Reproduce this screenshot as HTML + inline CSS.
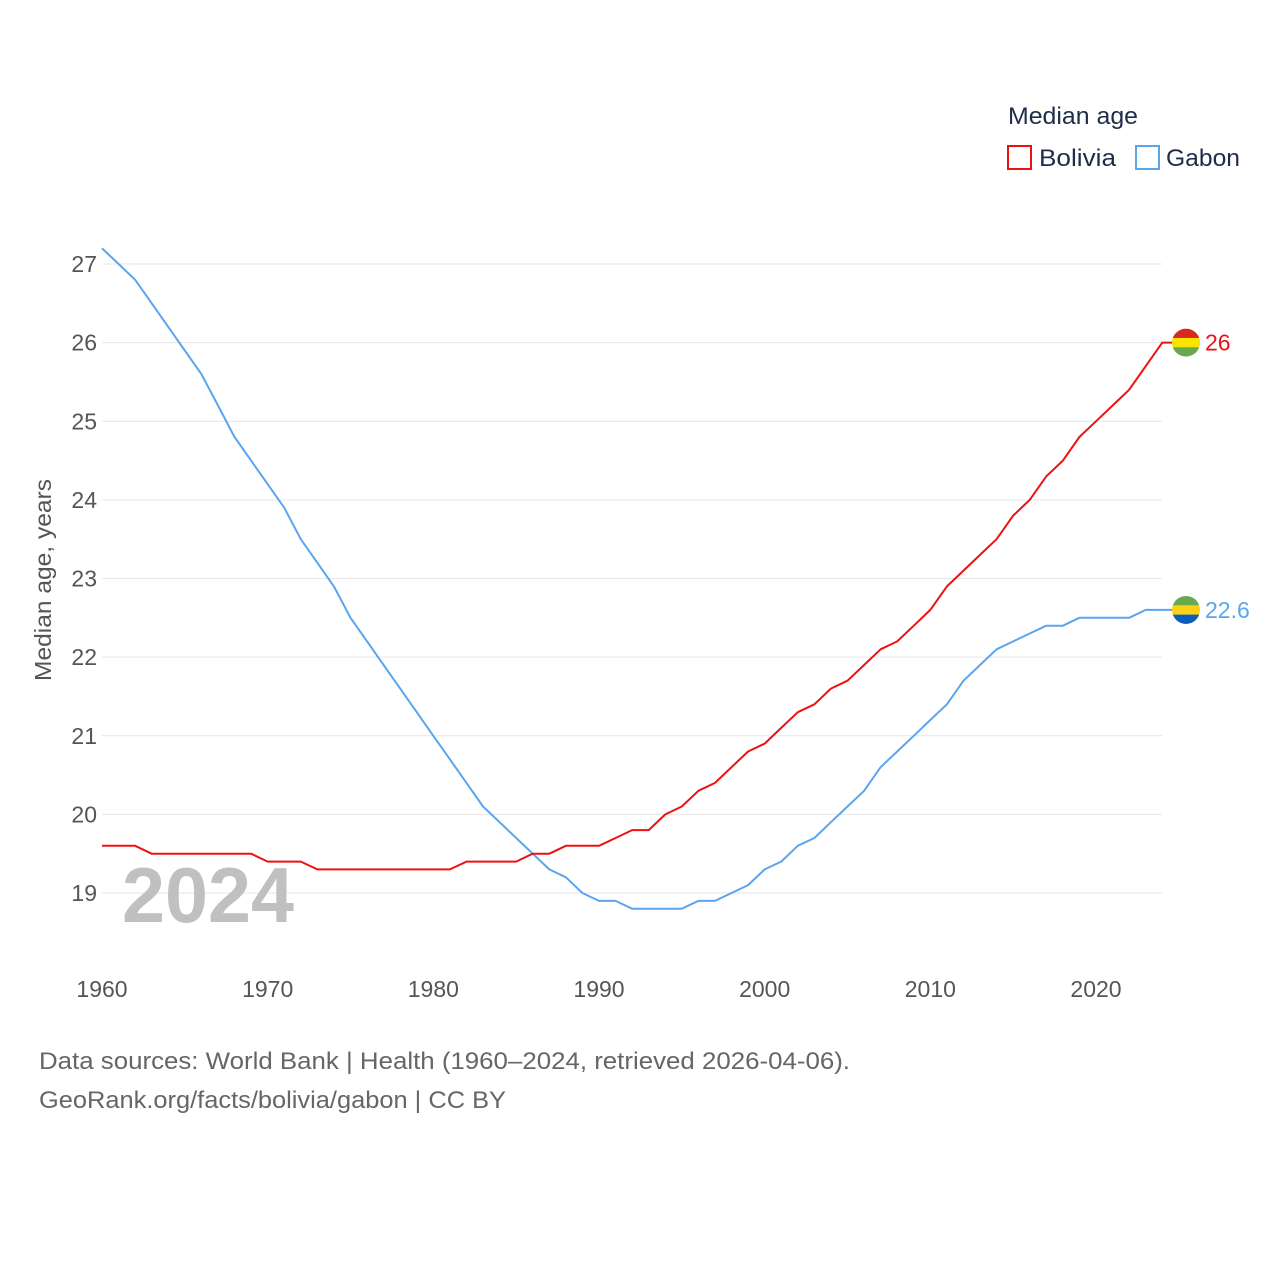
<!DOCTYPE html>
<html><head><meta charset="utf-8">
<style>
body{margin:0;background:#fff;font-family:"Liberation Sans",sans-serif;}
svg text{font-family:"Liberation Sans",sans-serif;}
</style></head>
<body>
<svg id="chart" width="1280" height="1280" viewBox="0 0 1280 1280" xmlns="http://www.w3.org/2000/svg">
<rect width="1280" height="1280" fill="#fff"/>
<g id="grid"></g>
<g id="yticks"></g>
<g id="xticks"></g>
<text x="122" y="922" font-size="78" font-weight="bold" fill="#c0c0c0" textLength="172" lengthAdjust="spacingAndGlyphs">2024</text>
<g id="lines"></g>
<text transform="translate(51,580) rotate(-90)" text-anchor="middle" font-size="23" fill="#555" textLength="202" lengthAdjust="spacingAndGlyphs">Median age, years</text>
<text x="1008" y="124" font-size="24" fill="#1f2d4a" textLength="130" lengthAdjust="spacingAndGlyphs">Median age</text>
<g>
<rect x="1008" y="146" width="23" height="23" fill="none" stroke="#ee1111" stroke-width="2"/>
<text x="1039" y="166" font-size="24" fill="#1f2d4a" textLength="77" lengthAdjust="spacingAndGlyphs">Bolivia</text></g>
<g>
<rect x="1136" y="146" width="23" height="23" fill="none" stroke="#5aa5ee" stroke-width="2"/>
<text x="1166" y="166" font-size="24" fill="#1f2d4a" textLength="74" lengthAdjust="spacingAndGlyphs">Gabon</text></g>
<text x="39" y="1069" font-size="24" fill="#666" textLength="811" lengthAdjust="spacingAndGlyphs">Data sources: World Bank | Health (1960–2024, retrieved 2026-04-06).</text>
<text x="39" y="1108" font-size="24" fill="#666" textLength="467" lengthAdjust="spacingAndGlyphs">GeoRank.org/facts/bolivia/gabon | CC BY</text>
</svg>
<script>
const years=[];for(let y=1960;y<=2024;y++)years.push(y);
const bolivia=[19.6,19.6,19.6,19.5,19.5,19.5,19.5,19.5,19.5,19.5,19.4,19.4,19.4,19.3,19.3,19.3,19.3,19.3,19.3,19.3,19.3,19.3,19.4,19.4,19.4,19.4,19.5,19.5,19.6,19.6,19.6,19.7,19.8,19.8,20.0,20.1,20.3,20.4,20.6,20.8,20.9,21.1,21.3,21.4,21.6,21.7,21.9,22.1,22.2,22.4,22.6,22.9,23.1,23.3,23.5,23.8,24.0,24.3,24.5,24.8,25.0,25.2,25.4,25.7,26.0];
const gabon=[27.2,27.0,26.8,26.5,26.2,25.9,25.6,25.2,24.8,24.5,24.2,23.9,23.5,23.2,22.9,22.5,22.2,21.9,21.6,21.3,21.0,20.7,20.4,20.1,19.9,19.7,19.5,19.3,19.2,19.0,18.9,18.9,18.8,18.8,18.8,18.8,18.9,18.9,19.0,19.1,19.3,19.4,19.6,19.7,19.9,20.1,20.3,20.6,20.8,21.0,21.2,21.4,21.7,21.9,22.1,22.2,22.3,22.4,22.4,22.5,22.5,22.5,22.5,22.6,22.6];
const yTicks=[19,20,21,22,23,24,25,26,27];
const xTicks=[1960,1970,1980,1990,2000,2010,2020];
const NS="http://www.w3.org/2000/svg";
const xs=y=>102+(y-1960)*(1096-102)/60;
const ys=v=>893-(v-19)*(893-264)/8;
function mk(tag,attrs,parent){const e=document.createElementNS(NS,tag);for(const k in attrs)e.setAttribute(k,attrs[k]);parent.appendChild(e);return e;}
const grid=document.getElementById('grid'),yt=document.getElementById('yticks'),xt=document.getElementById('xticks'),lines=document.getElementById('lines');
yTicks.forEach(v=>{
 const l=mk('line',{x1:102,x2:1162,y1:ys(v),y2:ys(v),stroke:'#e6e6e6','stroke-width':1},grid);
 
 
 const t=mk('text',{x:97,y:ys(v)+8,'text-anchor':'end','font-size':23,fill:'#555'},yt);
 t.textContent=v;
 
 
});
xTicks.forEach(y=>{
 const t=mk('text',{x:xs(y),y:997,'text-anchor':'middle','font-size':23,fill:'#555'},xt);
 t.textContent=y;
 
 
});
function series(vals,color,name,flag,labelColor){
 const last=vals[vals.length-1];
 let d=vals.map((v,i)=>(i?'L':'M')+xs(years[i]).toFixed(1)+','+ys(v).toFixed(1)).join(' ');
 d+=' L1186,'+ys(last).toFixed(1);
 const p=mk('path',{d:d,fill:'none',stroke:color,'stroke-width':2,'stroke-linejoin':'round'},lines);
 
 
 const cy=ys(last);
 const g=mk('g',{},lines);
 
 
 const cid='clip-'+name;
 const cp=mk('clipPath',{id:cid},g);mk('circle',{cx:1186,cy:cy,r:14},cp);
 flag.forEach((c,i)=>mk('rect',{x:1172,y:cy-14+i*28/3,width:28,height:28/3+0.5,fill:c,'clip-path':'url(#'+cid+')'},g));
 const t=mk('text',{x:1205,y:cy+8,'font-size':23,fill:labelColor},lines);
 t.textContent=last===Math.round(last)?last.toFixed(0):last.toFixed(1);
 
 
}
series(gabon,'#5aa5ee','gabon',['#6aa84f','#fcd116','#0b5cbf'],'#5aa5ee');
series(bolivia,'#ee1111','bolivia',['#d52b1e','#f9e300','#6aa84f'],'#ee1111');
</script>
</body></html>
